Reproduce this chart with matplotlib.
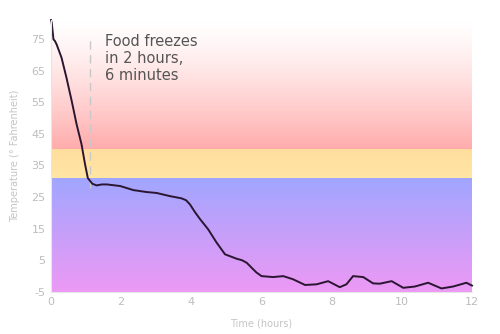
import matplotlib.pyplot as plt
import numpy as np

plt.rcParams['axes.unicode_minus'] = False

# readings taken off the chart
hours = [0.0, 0.02, 0.07, 0.11, 0.16, 0.30, 0.44, 0.59, 0.73, 0.87, 0.97, 1.05,
         1.18, 1.30, 1.45, 1.59, 1.97, 2.35, 2.72, 3.01, 3.39, 3.72, 3.85,
         3.96, 4.10, 4.25, 4.48, 4.72, 4.96, 5.29, 5.45, 5.58, 5.67, 5.85, 6.0,
         6.33, 6.62, 6.90, 7.24, 7.57, 7.90, 8.23, 8.42, 8.61, 8.90, 9.18,
         9.37, 9.71, 10.04, 10.37, 10.75, 11.13, 11.46, 11.84, 12.0]
temps = [81.0, 80.2, 74.9, 74.4, 73.3, 69.1, 62.8, 55.4, 48.0, 41.7, 35.4, 31.0,
         29.2, 28.7, 29.0, 29.0, 28.5, 27.2, 26.6, 26.3, 25.3, 24.6, 24.0,
         22.7, 20.3, 18.0, 14.8, 10.6, 6.9, 5.5, 5.0, 4.2, 3.2, 1.2, 0.0,
         -0.3, 0.0, -1.0, -2.8, -2.6, -1.6, -3.5, -2.6, 0.0, -0.3, -2.3,
         -2.4, -1.6, -3.7, -3.3, -2.1, -3.9, -3.3, -2.1, -3.0]

yticks = [-5, 5, 15, 25, 35, 45, 55, 65, 75]
xticks = [0, 2, 4, 6, 8, 10, 12]
freeze_time = 1.11
note = "Food freezes\nin 2 hours,\n6 minutes"

ymin, ymax = -5, 81
warm_lo, cold_hi = 40, 31

fig = plt.figure(figsize=(5, 3.34), dpi=100)
ax = fig.add_axes([0.102, 0.126, 0.842, 0.814])

# background bands
n = 200
t = np.linspace(0, 1, n)[:, None]
red = np.ones((n, 1, 3))
red[:, 0, 1] = 1 - 0.33 * (1 - t[:, 0]) ** 1.3
red[:, 0, 2] = 1 - 0.33 * (1 - t[:, 0]) ** 1.3
ax.imshow(red, extent=[0, 12, warm_lo, ymax], origin='lower', aspect='auto', zorder=0)

yel = np.ones((n, 1, 3))
yel[:, 0, 1] = 0.90 - 0.03 * t[:, 0]
yel[:, 0, 2] = 0.64 - 0.02 * t[:, 0]
ax.imshow(yel, extent=[0, 12, cold_hi, warm_lo], origin='lower', aspect='auto', zorder=0)

top = np.array([0.63, 0.65, 1.0])
bot = np.array([0.93, 0.60, 0.96])
blue = (bot + (top - bot) * t)[:, None, :]
ax.imshow(blue, extent=[0, 12, ymin, cold_hi], origin='lower', aspect='auto', zorder=0)

ax.plot([freeze_time, freeze_time], [28, 76], color='#c8c8c8', lw=1,
        dashes=(6, 4), zorder=1)
ax.plot(hours, temps, color='#2a1630', lw=1.4, zorder=2, clip_on=False)

ax.text(1.55, 76.5, note, fontsize=10.5, color='#555555', va='top', linespacing=1.15)

ax.set_xlim(0, 12)
ax.set_ylim(ymin, ymax)
ax.set_xticks(xticks)
ax.set_yticks(yticks)
for s in ['top', 'right']:
    ax.spines[s].set_visible(False)
for s in ['left', 'bottom']:
    ax.spines[s].set_color('#e6e6e6')
ax.tick_params(length=0, labelsize=8, colors='#bdbdbd', pad=4)
ax.set_xlabel('Time (hours)', fontsize=7, color='#c4c4c4', labelpad=8)
ax.set_ylabel('Temperature (° Fahrenheit)', fontsize=7, color='#c4c4c4', labelpad=8)

fig.savefig('out.png', dpi=100)
